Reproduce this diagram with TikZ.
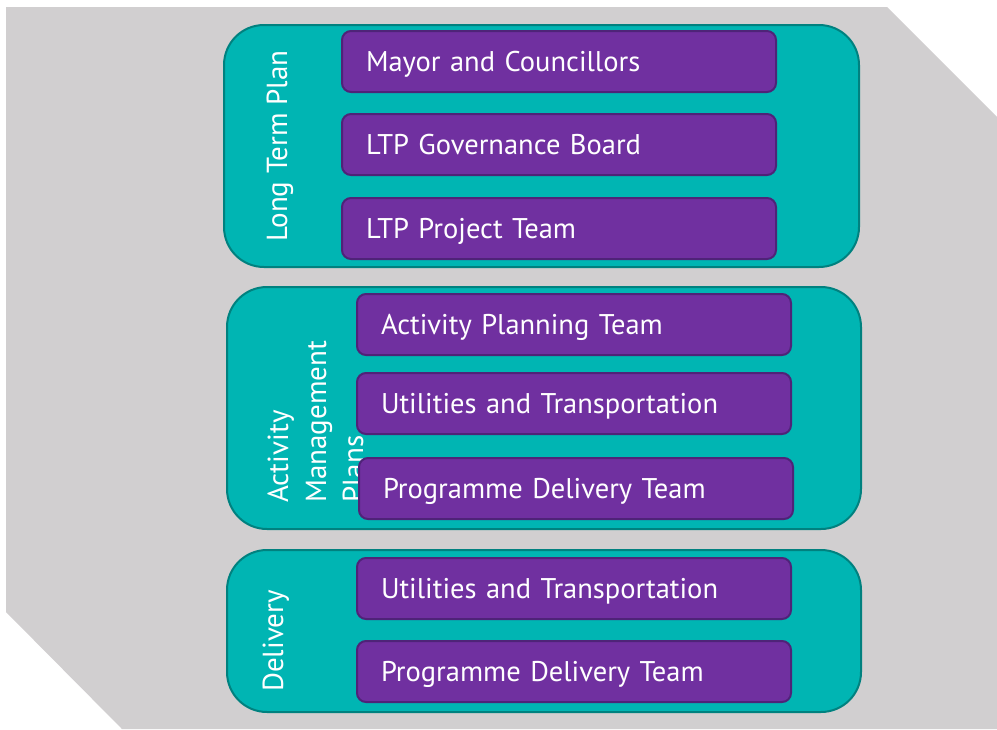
\documentclass[tikz,border=0pt]{standalone}
\usepackage{fontspec}
\setmainfont{PT Sans}
\definecolor{bggrey}{HTML}{D1CFD0}
\definecolor{tealfill}{HTML}{00B5B3}
\definecolor{tealline}{HTML}{00817F}
\definecolor{purplefill}{HTML}{7030A0}
\definecolor{purpleline}{HTML}{4F2378}
\begin{document}
\begin{tikzpicture}[x=1pt,y=-1pt,
  group/.style={draw=tealline, fill=tealfill, line width=2pt, rounded corners=40pt,
    anchor=north west, inner sep=0pt},
  item/.style={draw=purpleline, fill=purplefill, line width=2pt, rounded corners=9pt,
    anchor=north west, minimum height=61pt, inner xsep=24pt, inner ysep=0pt,
    text width=386pt, align=left, text=white, text height=20pt, text depth=0pt,
    font=\fontsize{28.5}{32}\selectfont},
  sidelabel/.style={text=white, rotate=90, anchor=base west, inner sep=0pt,
    font=\fontsize{29}{34}\selectfont}]
\useasboundingbox (0,0) rectangle (997,729);
\fill[white] (0,0) rectangle (997,729);
\fill[bggrey] (6,7) -- (887,7) -- (997,117) -- (997,729) -- (122,729) -- (6,612) -- cycle;
% groups
\node[group, minimum width=635pt, minimum height=242pt] (g1) at (223,24) {};
\node[group, minimum width=634pt, minimum height=242pt] (g2) at (226,286) {};
\node[group, minimum width=634pt, minimum height=162pt] (g3) at (226,549) {};
% side labels
\node[sidelabel] (l1) at (287,242) {Long Term Plan};
\node[sidelabel] (l2a) at (288,503) {Activity};
\node[sidelabel] (l2b) at (326,503) {Management};
\node[sidelabel] (l2c) at (363,503) {Plans};
\node[sidelabel] (l3) at (283,692) {Delivery};
% items
\node[item] (i1) at (341,30) {Mayor and Councillors};
\node[item] (i2) at (341,113) {LTP Governance Board};
\node[item] (i3) at (341,197) {LTP Project Team};
\node[item] (i4) at (356,293) {Activity Planning Team};
\node[item] (i5) at (356,372) {Utilities and Transportation};
\node[item] (i6) at (358,457) {Programme Delivery Team};
\node[item] (i7) at (356,557) {Utilities and Transportation};
\node[item] (i8) at (356,640) {Programme Delivery Team};
\end{tikzpicture}
\end{document}
